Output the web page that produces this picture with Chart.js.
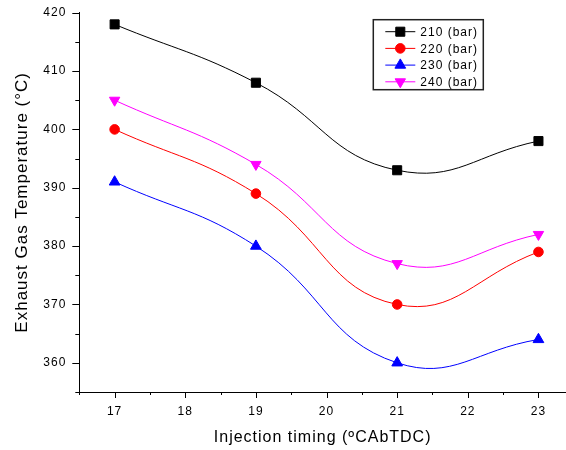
<!DOCTYPE html>
<html><head><meta charset="utf-8">
<script src="https://cdn.jsdelivr.net/npm/chart.js@4/dist/chart.umd.min.js"></script>
<style>html,body{margin:0;padding:0;background:#fff}</style>
</head><body>
<canvas id="c" width="566" height="450" style="display:block;width:566px;height:450px"></canvas>
<script>
// ---- data ----
const injectionTiming = [17, 19, 21, 23];
const seriesLabels = ['210 (bar)', '220 (bar)', '230 (bar)', '240 (bar)'];
const egt210 = [418, 408, 393, 398];
const egt220 = [400, 389, 370, 379];
const egt230 = [391, 380, 360, 364];
const egt240 = [405, 394, 377, 382];
const xTickLabels = [17, 18, 19, 20, 21, 22, 23];
const yTickLabels = [360, 370, 380, 390, 400, 410, 420];
const xTitle = 'Injection timing (ºCAbTDC)';
const yTitle = 'Exhaust Gas Temperature (°C)';

const FONT = "'Liberation Sans', Arial, sans-serif";

function mk(label, vals, color, style, radius, rot) {
  return {
    label, data: injectionTiming.map((x, i) => ({x, y: vals[i]})),
    borderColor: color, backgroundColor: color, borderWidth: 1,
    pointStyle: style, pointRadius: radius, pointHoverRadius: radius,
    pointRotation: rot || 0, pointBorderWidth: 1, tension: 0.45
  };
}

const datasets = [
  mk(seriesLabels[0], egt210, '#000000', 'rect', 6.4),
  mk(seriesLabels[1], egt220, '#ff0000', 'circle', 4.8),
  mk(seriesLabels[2], egt230, '#0000ff', 'triangle', 6.2),
  mk(seriesLabels[3], egt240, '#ff00ff', 'triangle', 6, 180)
];

const near = (v, list) => list.some(t => Math.abs(t - v) < 1e-6);

const spacingPlugin = {
  id: 'spacing',
  beforeDraw(chart) { chart.ctx.letterSpacing = '1px'; },
};

const tickPlugin = {
  id: 'minorTicks',
  afterDraw(chart) {
    const ctx = chart.ctx, ca = chart.chartArea;
    const xs = chart.scales.x, ys = chart.scales.y;
    ctx.save();
    ctx.strokeStyle = '#000'; ctx.lineWidth = 1;
    xs.ticks.forEach(t => {
      const px = Math.round(xs.getPixelForValue(t.value)) + 0.5;
      const major = Math.abs(t.value - Math.round(t.value)) < 1e-6;
      ctx.beginPath(); ctx.moveTo(px, ca.bottom); ctx.lineTo(px, ca.bottom + (major ? 6 : 3)); ctx.stroke();
    });
    ys.ticks.forEach(t => {
      const py = Math.round(ys.getPixelForValue(t.value)) + 0.5;
      const major = Math.abs(t.value % 10) < 1e-6;
      ctx.beginPath(); ctx.moveTo(ca.left, py); ctx.lineTo(ca.left - (major ? 7 : 4), py); ctx.stroke();
    });
    ctx.restore();
  }
};

const legendPlugin = {
  id: 'boxLegend',
  afterDraw(chart) {
    const ctx = chart.ctx, ca = chart.chartArea;
    const bx = ca.left + 294, by = ca.top + 7, bw = 110, bh = 70;
    ctx.save();
    ctx.letterSpacing = '1px';
    ctx.strokeStyle = '#222'; ctx.lineWidth = 1.5;
    ctx.strokeRect(bx, by, bw, bh);
    chart.data.datasets.forEach((ds, i) => {
      const yy = by + 12 + i * 16.7;
      ctx.strokeStyle = ds.borderColor; ctx.lineWidth = 1;
      ctx.beginPath(); ctx.moveTo(bx + 12, yy); ctx.lineTo(bx + 42, yy); ctx.stroke();
      ctx.fillStyle = ds.backgroundColor;
      Chart.helpers.drawPoint(ctx, {pointStyle: ds.pointStyle, radius: ds.pointRadius, rotation: ds.pointRotation, borderWidth: 1}, bx + 27, yy);
      ctx.fillStyle = '#000';
      ctx.font = '12px ' + FONT;
      ctx.textBaseline = 'middle'; ctx.textAlign = 'left';
      ctx.fillText(ds.label, bx + 47, yy + 1);
    });
    ctx.restore();
  }
};

new Chart(document.getElementById('c'), {
  type: 'line',
  data: { datasets },
  plugins: [spacingPlugin, tickPlugin, legendPlugin],
  options: {
    responsive: false, animation: false, devicePixelRatio: 1,
    layout: { autoPadding: false, padding: { top: 12.7, right: 0, left: 0, bottom: 0 } },
    plugins: { legend: { display: false }, tooltip: { enabled: false } },
    scales: {
      x: {
        type: 'linear', min: 16.5, max: 23.39,
        afterBuildTicks(s) { s.ticks = s.ticks.filter(t => Math.abs(t.value * 2 - Math.round(t.value * 2)) < 1e-6); },
        afterFit(s) { s.height = 58; s.paddingLeft = 0; s.paddingRight = 0; },
        ticks: { stepSize: 0.5, includeBounds: false, autoSkip: false, maxRotation: 0, padding: 12, color: '#000',
          font: { family: FONT, size: 12 },
          callback: v => near(v, xTickLabels) ? String(Math.round(v)) : '' },
        grid: { display: true, drawOnChartArea: false, drawTicks: false },
        border: { display: true, color: '#000', width: 1 },
        title: { display: true, text: xTitle, color: '#000', font: { family: FONT, size: 16 }, padding: { top: 0, bottom: 2.5 } }
      },
      y: {
        min: 355, max: 420,
        afterFit(s) { s.width = 79.3; s.paddingTop = 0; s.paddingBottom = 0; },
        ticks: { stepSize: 5, autoSkip: false, padding: 13, color: '#000',
          font: { family: FONT, size: 12 },
          callback: v => near(v, yTickLabels) ? String(Math.round(v)) : '' },
        grid: { display: true, drawOnChartArea: false, drawTicks: false },
        border: { display: true, color: '#000', width: 1 },
        title: { display: true, text: yTitle, color: '#000', font: { family: FONT, size: 17 }, padding: { top: 12, bottom: 0 } }
      }
    }
  }
});
</script>
</body></html>
